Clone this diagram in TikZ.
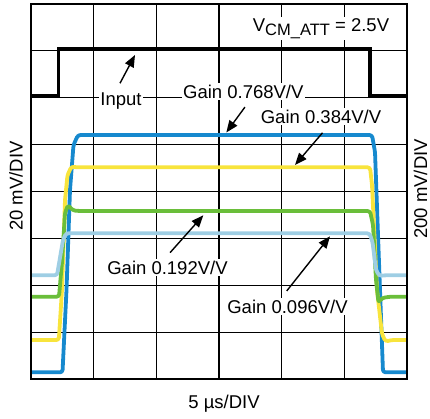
\documentclass[tikz,border=0pt]{standalone}
\usepackage{fontspec}
\setmainfont{Liberation Sans}
\usetikzlibrary{arrows.meta}
\definecolor{tblue}{RGB}{22,137,206}
\definecolor{tyellow}{RGB}{248,228,60}
\definecolor{tgreen}{RGB}{106,190,58}
\definecolor{tlblue}{RGB}{158,206,228}
\begin{document}
\begin{tikzpicture}[x=1pt,y=-1pt,
  gridline/.style={line width=1.1pt,black},
  frameline/.style={line width=2pt,black},
  trace/.style={line width=3.8pt,rounded corners=2.5pt,line join=round},
  inputtrace/.style={line width=3.8pt,black,line join=miter},
  lbl/.style={font=\fontsize{18.5}{20}\selectfont,fill=white,inner sep=1.5pt,anchor=base},
  axlbl/.style={font=\fontsize{18.5}{20}\selectfont,inner sep=0pt},
  arr/.style={line width=1.4pt,-{Triangle[length=12pt,width=9.5pt]}}]
\useasboundingbox (0,0) rectangle (430,418);
% grid
\foreach \y in {50.9,97.75,144.6,191.5,238.4,285.25,332.1}
  \draw[gridline] (31,\y) -- (407,\y);
\foreach \x in {93.7,156.3,219,281.7,344.3}
  \draw[gridline] (\x,4) -- (\x,379);
% traces
\draw[trace,tblue] (31,372.3) -- (62.5,372.3) -- (66.5,290) -- (70,190) -- (73.5,145) -- (78,135) -- (372,135) -- (375,152) -- (380,290) -- (383,372.3) -- (407,372.3);
\draw[trace,tyellow] (31,340) -- (58.8,340) -- (62,290) -- (65,200) -- (67.5,175) -- (71.5,166.5) -- (76,167.3) -- (370,167.3) -- (372,185) -- (377,290) -- (382,334) -- (385.5,341.5) -- (392,340) -- (407,340);
\draw[trace,tgreen] (31,296.7) -- (59,296.7) -- (62,262) -- (65,213) -- (68,205) -- (73,210.5) -- (80,211) -- (370,211) -- (373,225) -- (376,280) -- (378.5,302.5) -- (382,298) -- (390,296.7) -- (407,296.7);
\draw[trace,tlblue] (31,275.3) -- (57,275.3) -- (63,240) -- (66,233.3) -- (72,233.3) -- (369.5,233.3) -- (372.5,242) -- (376,270) -- (379.5,276) -- (384,275.3) -- (407,275.3);
\draw[inputtrace] (31,95.5) -- (58.5,95.5) -- (58.5,48.8) -- (370,48.8) -- (370,95.5) -- (407,95.5);
% frame
\draw[frameline] (31,4) rectangle (407,379);
% labels
\node[lbl] (vcm) at (321,31.7) {V{\fontsize{16.5}{18}\selectfont\raisebox{-4pt}{CM\_ATT}} = 2.5V};
\node[lbl] (inlbl) at (121,105) {Input};
\node[lbl] (g768) at (243.3,98.3) {Gain 0.768V/V};
\node[lbl] (g384) at (321,123.3) {Gain 0.384V/V};
\node[lbl] (g192) at (167.5,274) {Gain 0.192V/V};
\node[lbl] (g096) at (287.5,313) {Gain 0.096V/V};
\node[axlbl,rotate=90] (ylbl) at (16,186) {20 mV/DIV};
\node[axlbl,rotate=90] (y2lbl) at (420.5,189) {200 mV/DIV};
\node[axlbl,anchor=base] (xlbl) at (224,408.3) {5 µs/DIV};
% arrow tips
\coordinate (tIn) at (135,55);
\coordinate (t768) at (226.3,132.5);
\coordinate (t384) at (295,165);
\coordinate (t192) at (203.3,215.3);
\coordinate (t096) at (330,236.3);
\draw[arr,shorten <=8.3pt] ([xshift=-4.9pt]inlbl.north) -- (tIn);
\draw[arr,shorten <=8.6pt] ([xshift=6.7pt]g768.south) -- (t768);
\draw[arr,shorten <=10pt] ([xshift=8pt]g384.south) -- (t384);
\draw[arr,shorten <=8.4pt] ([xshift=-3pt]g192.north) -- (t192);
\draw[arr,shorten <=8.9pt] ([xshift=-6.3pt]g096.north) -- (t096);
\end{tikzpicture}
\end{document}
